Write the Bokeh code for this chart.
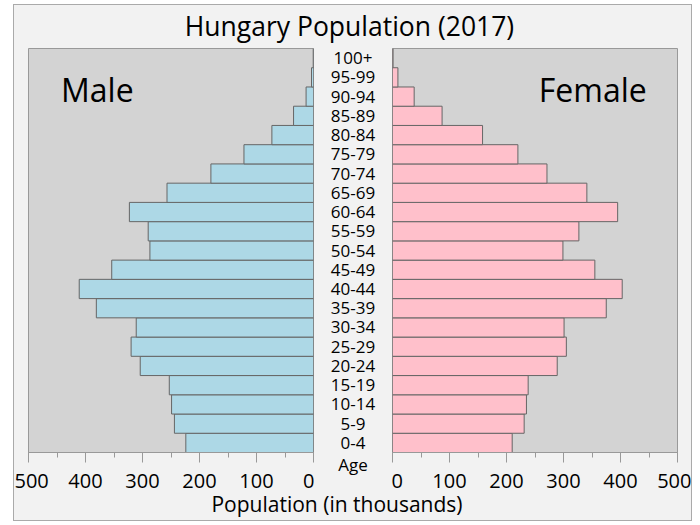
from bokeh.plotting import figure
from bokeh.layouts import row, column
from bokeh.models import Range1d, FactorRange, SingleIntervalTicker, FixedTicker, ColumnDataSource
from bokeh.core.properties import value
from bokeh.embed import file_html
from bokeh.resources import INLINE

# ---- data (thousands) ----
age_groups = ["0-4", "5-9", "10-14", "15-19", "20-24", "25-29", "30-34", "35-39",
              "40-44", "45-49", "50-54", "55-59", "60-64", "65-69", "70-74", "75-79",
              "80-84", "85-89", "90-94", "95-99", "100+"]
male = [224, 244, 249, 253, 304, 320, 311, 381, 411, 354, 287, 290, 323, 257,
        180, 122, 73, 35, 13, 3.5, 0.5]
female = [210, 231, 235, 238, 289, 305, 301, 375, 403, 355, 299, 327, 395, 341,
          271, 220, 158, 87, 38, 9.5, 1.0]
x_ticks_interval = 100
x_max = 500

title_text = "Hungary Population (2017)"
xlabel_text = "Population (in thousands)"
mid_label = "Age"

FONT = "Open Sans"
BG = "#f2f2f2"
PANEL = "#d3d3d3"
EDGE = "#999999"
MALE_C = "#add8e6"
FEMALE_C = "#ffc0cb"
BAR_EDGE = "#666666"

src = ColumnDataSource(dict(age=age_groups, male=male, female=female))

FRAME_TOP = 4
FRAME_H = 404
FRAME_BOTTOM = 50
ROW_H = FRAME_TOP + FRAME_H + FRAME_BOTTOM


def make_panel(xr, width, mbl, mbr):
    p = figure(width=width, height=ROW_H, x_range=xr,
               y_range=FactorRange(factors=age_groups),
               output_backend="svg", toolbar_location=None,
               y_axis_location=None,
               min_border_left=mbl, min_border_right=mbr,
               min_border_top=FRAME_TOP, min_border_bottom=FRAME_BOTTOM,
               background_fill_color=PANEL, border_fill_color=BG,
               outline_line_color=EDGE)
    p.xgrid.visible = False
    p.ygrid.visible = False
    ax = p.xaxis[0]
    ax.ticker = SingleIntervalTicker(interval=x_ticks_interval, num_minor_ticks=2)
    ax.major_tick_in = 0
    ax.major_tick_out = 10
    ax.minor_tick_in = 0
    ax.minor_tick_out = 5
    ax.major_tick_line_color = EDGE
    ax.minor_tick_line_color = EDGE
    ax.axis_line_color = EDGE
    ax.major_label_text_font = FONT
    ax.major_label_text_font_size = "20px"
    ax.major_label_text_color = "black"
    ax.major_label_standoff = 11
    return p


left = make_panel(Range1d(x_max, 0), 300, 14, 1)
left.hbar(y="age", left=0, right="male", height=1.0, source=src,
          fill_color=MALE_C, line_color=BAR_EDGE, line_width=1)
left.text(x=[443], y=[18.85], text=["Male"], text_font=value(FONT),
          text_font_size="32px", text_align="left", text_baseline="middle",
          text_color="black")

right = make_panel(Range1d(0, x_max), 300, 1, 14)
right.hbar(y="age", left=0, right="female", height=1.0, source=src,
           fill_color=FEMALE_C, line_color=BAR_EDGE, line_width=1)
right.text(x=[446], y=[18.85], text=["Female"], text_font=value(FONT),
           text_font_size="32px", text_align="right", text_baseline="middle",
           text_color="black")

mid = figure(width=77, height=ROW_H, x_range=Range1d(0, 1),
             y_range=FactorRange(factors=age_groups),
             output_backend="svg", toolbar_location=None,
             y_axis_location=None,
             min_border_left=0, min_border_right=0,
             min_border_top=FRAME_TOP, min_border_bottom=FRAME_BOTTOM,
             background_fill_color=BG, border_fill_color=BG,
             outline_line_color=None)
mid.xgrid.visible = False
mid.ygrid.visible = False
mid.text(x=0.5, y="age", text="age", source=src, text_font=value(FONT),
         text_font_size="17px", text_align="center", text_baseline="middle",
         text_color="black")
max_ = mid.xaxis[0]
max_.ticker = FixedTicker(ticks=[])
max_.axis_line_color = None
max_.major_tick_line_color = None
max_.minor_tick_line_color = None
max_.major_tick_out = 0
max_.minor_tick_out = 0
max_.major_label_standoff = 0
max_.axis_label = mid_label
max_.axis_label_standoff = 0
max_.axis_label_text_font = FONT
max_.axis_label_text_font_style = "normal"
max_.axis_label_text_font_size = "17px"
max_.axis_label_text_color = "black"

W = 677


def text_fig(height, txt, x, y, size, margin=None, transparent=False):
    f = figure(width=W, height=height, x_range=Range1d(0, W), y_range=Range1d(0, height),
               output_backend="svg", toolbar_location=None,
               x_axis_location=None, y_axis_location=None,
               min_border=0, min_border_left=0, min_border_right=0,
               min_border_top=0, min_border_bottom=0,
               background_fill_color=BG, border_fill_color=BG,
               outline_line_color=None)
    if margin is not None:
        f.margin = margin
    if transparent:
        f.background_fill_alpha = 0
        f.border_fill_alpha = 0
    f.xgrid.visible = False
    f.ygrid.visible = False
    f.text(x=[x], y=[y], text=[txt], text_font=value(FONT), text_font_size=size,
           text_align="center", text_baseline="middle", text_color="black")
    return f


top = text_fig(39, title_text, 335, 18.1, "26.5px")
# bottom strip overlaps the row's empty lower border by 16 px
bottom = text_fig(34, xlabel_text, 322.5, 16.5, "21px",
                  margin=(-(ROW_H + 44 - 486), 0, 0, 0), transparent=True)

layout = column(top, row(left, mid, right), bottom,
                styles={"margin-left": "13px", "margin-top": "4px",
                        "border": "1px solid #aaaaaa", "box-sizing": "content-box",
                        "background-color": BG})

open("out.html", "w").write(file_html(layout, INLINE))
